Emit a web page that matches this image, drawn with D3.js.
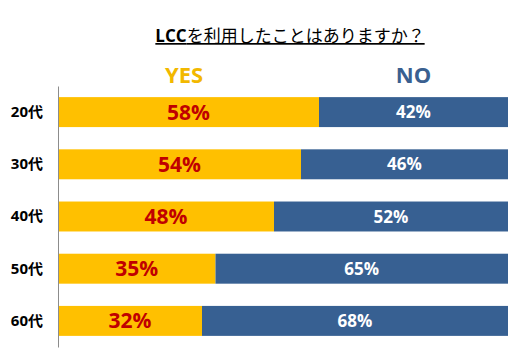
<!DOCTYPE html>
<html>
<head>
<meta charset="utf-8">
<script src="https://cdn.jsdelivr.net/npm/d3@7"></script>
<style>
    body { margin: 0; background: #fff; }
    svg text { font-family: "Open Sans", "Noto Sans CJK JP", sans-serif; }
    .axis path { stroke: #8c8c8c; }
    .axis text { font-size: 15px; font-weight: bold; fill: #000; }
</style>
</head>
<body>
<svg id="chart"></svg>
<script>
    var categories = ["20代", "30代", "40代", "50代", "60代"];
    var yesValues = [58, 54, 48, 35, 32];
    var noValues = [42, 46, 52, 65, 68];
    var seriesNames = ["YES", "NO"];
    var colors = ["#FFC000", "#376092"];

    var width = 523, height = 351;

    var svg = d3.select("#chart")
        .attr("width", width)
        .attr("height", height);

    var x = d3.scaleLinear()
        .domain([0, 100])
        .range([58, 508]);

    var y = d3.scaleBand()
        .domain(categories)
        .range([86, 347])
        .paddingInner(0.426)
        .paddingOuter(0.213);

    // title
    var title = svg.append("text")
        .attr("x", 290)
        .attr("y", 42)
        .attr("text-anchor", "middle")
        .style("font-size", "17px")
        .style("text-decoration", "underline");
    title.append("tspan").style("font-weight", "bold").text("LCC");
    title.append("tspan").text("を利用したことはありますか？");

    // series headers
    svg.append("text")
        .attr("x", x(28))
        .attr("y", 83)
        .attr("text-anchor", "middle")
        .style("font-size", "22px")
        .style("font-weight", "bold")
        .style("fill", "#F2B800")
        .text(seriesNames[0]);

    svg.append("text")
        .attr("x", x(79))
        .attr("y", 83)
        .attr("text-anchor", "middle")
        .style("font-size", "22px")
        .style("font-weight", "bold")
        .style("fill", "#3A6090")
        .text(seriesNames[1]);

    var rows = categories.map(function (c, i) {
        return { cat: c, yes: yesValues[i], no: noValues[i] };
    });

    // yes bars
    svg.selectAll(".yes")
        .data(rows)
        .enter().append("rect")
        .attr("class", "yes")
        .attr("x", x(0))
        .attr("y", function (d) { return y(d.cat); })
        .attr("width", function (d) { return x(d.yes) - x(0); })
        .attr("height", y.bandwidth())
        .attr("fill", colors[0]);

    // no bars
    svg.selectAll(".no")
        .data(rows)
        .enter().append("rect")
        .attr("class", "no")
        .attr("x", function (d) { return x(d.yes); })
        .attr("y", function (d) { return y(d.cat); })
        .attr("width", function (d) { return x(d.yes + d.no) - x(d.yes); })
        .attr("height", y.bandwidth())
        .attr("fill", colors[1]);

    // labels
    svg.selectAll(".yeslabel")
        .data(rows)
        .enter().append("text")
        .attr("x", function (d) { return (x(0) + x(d.yes)) / 2; })
        .attr("y", function (d) { return y(d.cat) + y.bandwidth() / 2; })
        .attr("dy", "0.36em")
        .attr("text-anchor", "middle")
        .style("font-size", "21px")
        .style("font-weight", "bold")
        .style("fill", "#C00000")
        .text(function (d) { return d.yes + "%"; });

    svg.selectAll(".nolabel")
        .data(rows)
        .enter().append("text")
        .attr("x", function (d) { return (x(d.yes) + x(d.yes + d.no)) / 2; })
        .attr("y", function (d) { return y(d.cat) + y.bandwidth() / 2; })
        .attr("dy", "0.36em")
        .attr("text-anchor", "middle")
        .style("font-size", "17px")
        .style("font-weight", "bold")
        .style("fill", "#fff")
        .text(function (d) { return d.no + "%"; });

    // category axis
    svg.append("g")
        .attr("class", "axis")
        .attr("transform", "translate(" + x(0) + ",0)")
        .call(d3.axisLeft(y).tickSize(0).tickPadding(15));
</script>
</body>
</html>
